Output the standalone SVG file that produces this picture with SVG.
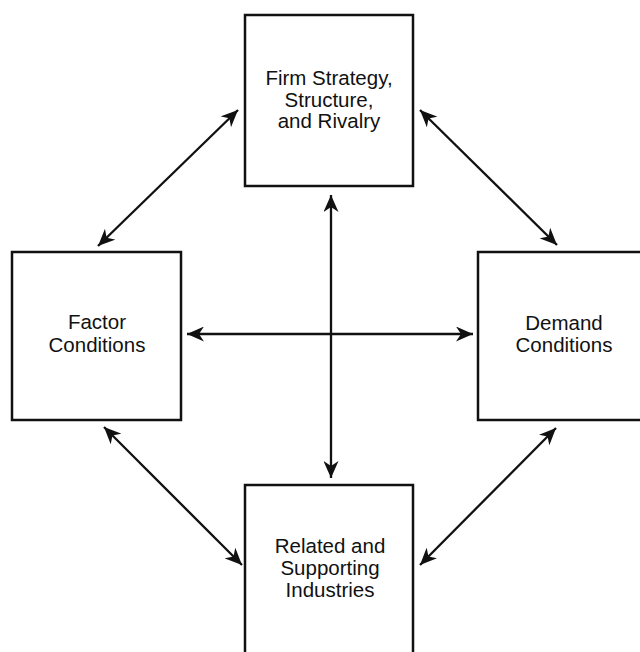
<svg xmlns="http://www.w3.org/2000/svg" width="640" height="652" viewBox="0 0 640 652">
  <style>
    .box { fill: #ffffff; stroke: #111111; stroke-width: 2.5; }
    .lbl { font-family: "Liberation Sans", Arial, sans-serif; font-size: 20.5px; fill: #111111; text-anchor: middle; }
    .conn { stroke: #111111; stroke-width: 2.3; fill: none; marker-start: url(#ah); marker-end: url(#ah); }
  </style>
  <defs>
    <marker id="ah" markerUnits="userSpaceOnUse" markerWidth="19" markerHeight="15" refX="17" refY="7.5" orient="auto-start-reverse">
      <path d="M0,0 L17,7.5 L0,15 L5,7.5 Z" fill="#111111"/>
    </marker>
  </defs>
  <rect width="640" height="652" fill="#ffffff"/>

  <g id="firm">
    <rect class="box" x="245" y="15" width="168" height="171"/>
    <text class="lbl" x="329" y="85">Firm Strategy,</text>
    <text class="lbl" x="329" y="107">Structure,</text>
    <text class="lbl" x="329" y="128">and Rivalry</text>
  </g>

  <g id="factor">
    <rect class="box" x="12" y="252" width="169" height="168"/>
    <text class="lbl" x="97" y="329">Factor</text>
    <text class="lbl" x="97" y="352">Conditions</text>
  </g>

  <g id="demand">
    <rect class="box" x="478" y="252" width="170" height="168"/>
    <text class="lbl" x="564" y="330">Demand</text>
    <text class="lbl" x="564" y="352">Conditions</text>
  </g>

  <g id="related">
    <rect class="box" x="245" y="485" width="168" height="175"/>
    <text class="lbl" x="330" y="553">Related and</text>
    <text class="lbl" x="330" y="575">Supporting</text>
    <text class="lbl" x="330" y="597">Industries</text>
  </g>

  <g id="connectors">
    <line class="conn" x1="331" y1="195" x2="331" y2="478"/>
    <line class="conn" x1="187" y1="334" x2="473" y2="334"/>
    <line class="conn" x1="98" y1="246" x2="238" y2="110"/>
    <line class="conn" x1="420" y1="110" x2="557" y2="245"/>
    <line class="conn" x1="104" y1="427" x2="242" y2="565"/>
    <line class="conn" x1="420" y1="565" x2="556" y2="428"/>
  </g>
</svg>
